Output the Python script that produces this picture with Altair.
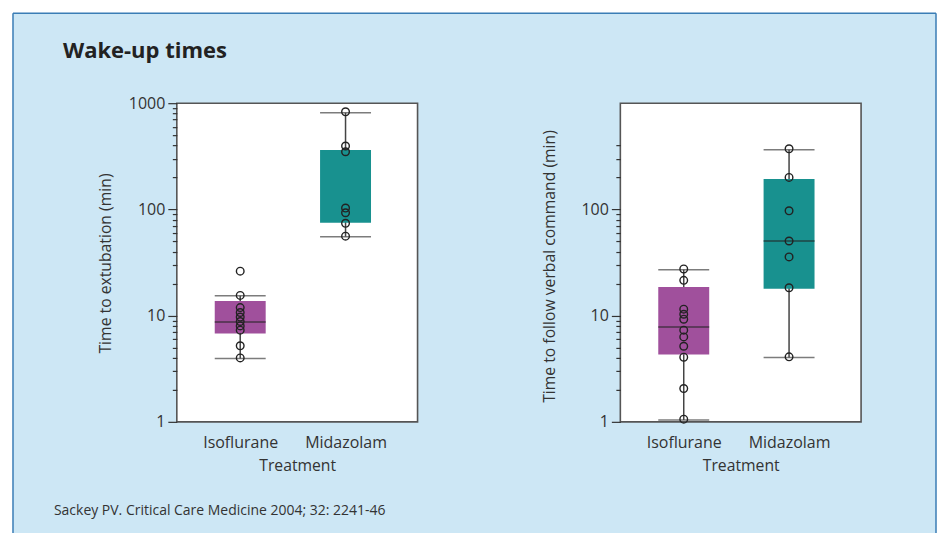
import altair as alt
import pandas as pd

# ---------------- data ----------------
groups = ["Isoflurane", "Midazolam"]

# Left panel: time to extubation (min)
ext_iso = [26.2, 15.5, 11.9, 10.7, 9.7, 8.8, 8.0, 7.3, 5.2, 4.0]
ext_mid = [830, 395, 349, 103, 93, 74, 56]
ext_q1 = [6.8, 75]
ext_q3 = [13.7, 362]
ext_med = [8.7, None]
ext_lo = [3.95, 55.4]
ext_hi = [15.4, 812]

# Right panel: time to follow verbal command (min)
cmd_iso = [27.5, 21.5, 11.5, 10.3, 9.25, 7.3, 6.3, 5.15, 4.06, 2.06, 1.06]
cmd_mid = [372, 200, 97, 50.4, 35.7, 18.3, 4.09]
cmd_q1 = [4.3, 17.9]
cmd_q3 = [18.6, 193]
cmd_med = [7.83, 50.4]
cmd_lo = [1.04, 4.03]
cmd_hi = [27.1, 365]

left_ticks = list(range(1, 10)) + list(range(10, 100, 10)) + list(range(100, 1000, 100)) + [1000]
right_ticks = list(range(1, 10)) + list(range(10, 100, 10)) + [100, 200, 300, 400]

title_text = "Wake-up times"
footer_text = "Sackey PV. Critical Care Medicine 2004; 32: 2241-46"

# ---------------- style ----------------
FONT = "Open Sans"
PURPLE = "#a0509c"
TEAL = "#18918f"
BG = "#cde7f5"
BORDER = "#3a7db5"
INK = "#333333"
W, H = 241, 319
BOXW = 51
FS = 16
TFS = 15.75


def panel(iso, mid, q1, q3, med, lo, hi, ytitle, ticks, title_y, deco=False):
    pos = [i + 1 for i in range(len(groups))]
    stats = pd.DataFrame({"group": groups, "pos": pos, "q1": q1, "q3": q3,
                          "med": med, "lo": lo, "hi": hi})
    pts = pd.DataFrame({
        "group": [groups[0]] * len(iso) + [groups[1]] * len(mid),
        "pos": [pos[0]] * len(iso) + [pos[1]] * len(mid),
        "value": iso + mid,
    })
    xenc = alt.X("pos:Q", title="Treatment",
                 scale=alt.Scale(domain=[0.4455, 2.6364], nice=False, zero=False),
                 axis=alt.Axis(values=pos, labelExpr="datum.value == 1 ? 'Isoflurane' : 'Midazolam'",
                               ticks=False, tickSize=0, domain=False, grid=False,
                               labelPadding=26, labelBaseline="alphabetic",
                               labelFontSize=FS, labelColor=INK, labelFont=FONT,
                               labelFlush=False, labelOverlap=False,
                               titleFontSize=TFS, titleColor=INK, titleFont=FONT,
                               titleFontWeight="normal", titleY=49, titleBaseline="alphabetic",
                               zindex=1))
    major = "datum.value == 1 || datum.value == 10 || datum.value == 100 || datum.value == 1000"
    yaxis = alt.Axis(values=ticks, labelExpr="(" + major + ") ? format(datum.value, 'd') : ''",
                     tickSize={"condition": {"test": major, "value": 9}, "value": 4.5},
                     tickColor=INK, tickWidth=1.2, domain=False, grid=False,
                     labelPadding=3, labelFontSize=FS, labelColor=INK, labelFont=FONT,
                     labelOverlap=False, labelFlush=False,
                     titleFontSize=TFS, titleColor=INK, titleFont=FONT, titleFontWeight="normal",
                     titleX=-71, titleY=title_y, titleAngle=-90, titleAlign="center",
                     titleBaseline="middle", zindex=1)
    yscale = alt.Scale(type="log", domain=[1, 1000], nice=False)

    one = pd.DataFrame({"k": [0]})
    layers = []
    if deco:
        layers.append(alt.Chart(one).mark_rect(color=BG).encode(
            x=alt.value(-164), x2=alt.value(760), y=alt.value(-90), y2=alt.value(436)))
        for (xa, xb, ya, yb) in [(-164, 760, -90, -90), (-164, -164, -90, 436), (760, 760, -90, 436)]:
            layers.append(alt.Chart(one).mark_rule(color=BORDER, strokeWidth=1.5).encode(
                x=alt.value(xa), x2=alt.value(xb), y=alt.value(ya), y2=alt.value(yb)))
        layers.append(alt.Chart(one).mark_text(align="left", baseline="alphabetic", font=FONT,
                                               fontSize=22, fontWeight="bold", color="#222222").encode(
            x=alt.value(-114), y=alt.value(-45), text=alt.value(title_text)))
        layers.append(alt.Chart(one).mark_text(align="left", baseline="alphabetic", font=FONT,
                                               fontSize=14, color=INK).encode(
            x=alt.value(-123), y=alt.value(412), text=alt.value(footer_text)))
    # plot frame
    layers.append(alt.Chart(one).mark_rect(fill="white", stroke="#555555", strokeWidth=1.6).encode(
        x=alt.value(0), x2=alt.value(W), y=alt.value(0), y2=alt.value(H)))

    base = alt.Chart(stats)
    layers.append(base.mark_rule(color="#444444", strokeWidth=1.5).encode(
        x=xenc, y=alt.Y("lo:Q", scale=yscale, axis=yaxis, title=ytitle), y2="hi:Q"))
    layers.append(base.mark_bar(size=BOXW).encode(
        x=xenc, y=alt.Y("q1:Q", scale=yscale, axis=yaxis, title=ytitle), y2="q3:Q",
        color=alt.Color("group:N", scale=alt.Scale(domain=groups, range=[PURPLE, TEAL]), legend=None)))
    for col in ["lo", "hi"]:
        layers.append(base.mark_tick(orient="horizontal", size=BOXW, thickness=1.5, color="#444444").encode(
            x=xenc, y=alt.Y(col + ":Q", scale=yscale, axis=yaxis, title=ytitle)))
    layers.append(base.transform_filter("isValid(datum.med)").mark_tick(
        orient="horizontal", size=BOXW, thickness=1.5, color="#222222").encode(
        x=xenc, y=alt.Y("med:Q", scale=yscale, axis=yaxis, title=ytitle)))
    layers.append(alt.Chart(pts).mark_point(shape="circle", filled=False, size=58,
                                            stroke="#222222", strokeWidth=1.4, opacity=1).encode(
        x=xenc, y=alt.Y("value:Q", scale=yscale, axis=yaxis, title=ytitle)))
    return alt.layer(*layers).properties(width=W, height=H)


left = panel(ext_iso, ext_mid, ext_q1, ext_q3, ext_med, ext_lo, ext_hi,
             "Time to extubation (min)", left_ticks, 160, deco=True)
right = panel(cmd_iso, cmd_mid, cmd_q1, cmd_q3, cmd_med, cmd_lo, cmd_hi,
              "Time to follow verbal command (min)", right_ticks, 163)

chart = alt.hconcat(left, right, spacing=203, bounds="flush").configure(
    background="white",
    padding={"left": 4, "top": 4, "right": 0, "bottom": 0},
).configure_view(stroke=None, fill=None)

chart.save("out.html", embed_options={"renderer": "svg", "actions": False})
